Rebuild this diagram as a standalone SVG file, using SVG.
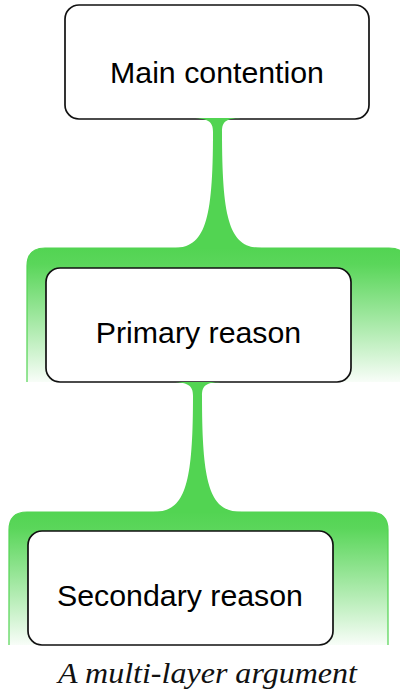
<svg xmlns="http://www.w3.org/2000/svg" width="400" height="692" viewBox="0 0 400 692">
<style>
.box{fill:#fff;stroke:#111;stroke-width:1.7}
.lbl{font-family:"Liberation Sans",Arial,sans-serif;font-size:30.3px;fill:#000;text-anchor:middle}
.band{fill:url(#fade);stroke:#52d452;stroke-width:1.2}
.conn{fill:#52d452}
.cap{font-family:"Liberation Serif","Times New Roman",serif;font-style:italic;font-size:29px;fill:#111;text-anchor:middle}
</style>
<defs>
<linearGradient id="fade" x1="0" y1="0" x2="0" y2="1">
<stop offset="0" stop-color="#52d452"/>
<stop offset="0.12" stop-color="#5ad65a"/>
<stop offset="1" stop-color="#52d452" stop-opacity="0.04"/>
</linearGradient>
<path id="stem" d="M189,118 H244 C226,118 222,121 222,132 C222,222 230,248 262,248 H173 C205,248 213,222 213,132 C213,121 208,118 189,118 Z"/>
</defs>
<g id="band1"><path class="band" d="M27,382 V266 Q27,248 45,248 H389 Q407,248 407,266 V382"/></g>
<g id="band2"><path class="band" d="M9,645 V530 Q9,512 27,512 H370 Q388,512 388,530 V645"/></g>
<g id="main"><rect class="box" x="65" y="5" width="304" height="114" rx="14"/><text class="lbl" x="217" y="83">Main contention</text></g>
<g id="primary"><rect class="box" x="46" y="268" width="305" height="114" rx="14"/><text class="lbl" x="198.5" y="343">Primary reason</text></g>
<g id="secondary"><rect class="box" x="28" y="531" width="305" height="114" rx="14"/><text class="lbl" x="180" y="606">Secondary reason</text></g>
<g id="connectors">
<use href="#stem" class="conn"/>
<use href="#stem" class="conn" transform="translate(-20,264)"/>
</g>
<text class="cap" x="207.5" y="683" textLength="299" lengthAdjust="spacingAndGlyphs">A multi-layer argument</text>
</svg>
